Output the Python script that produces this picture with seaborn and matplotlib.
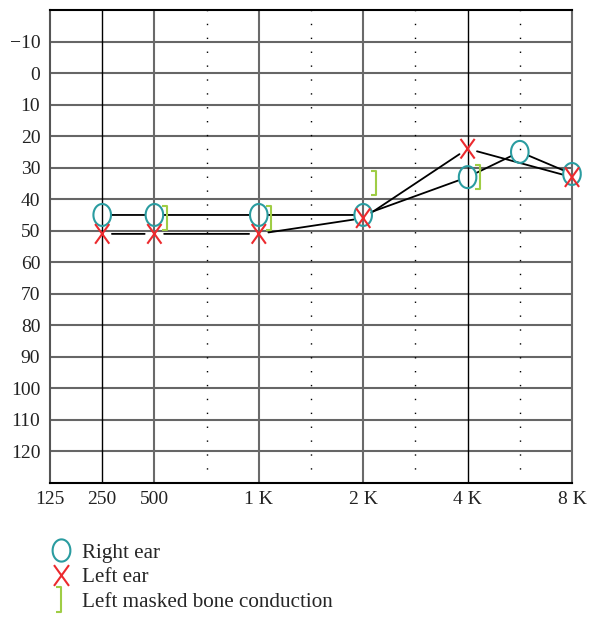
import numpy as np
import seaborn as sns
import matplotlib
import matplotlib.pyplot as plt
from matplotlib.path import Path
from matplotlib.lines import Line2D
from matplotlib.transforms import offset_copy

matplotlib.use("Agg")

# audiogram data (Hz, dB HL)
tick_freqs = [125, 250, 500, 1000, 2000, 4000, 8000]
tick_labels = ["125", "250", "500", "1 K", "2 K", "4 K", "8 K"]
mid_freqs = [750, 1500, 3000, 6000]
db_ticks = list(range(-10, 130, 10))

right_freqs = [250, 500, 1000, 2000, 4000, 6000, 8000]
right_db = [45, 45, 45, 45, 33, 25, 32]
left_freqs = [250, 500, 1000, 2000, 4000, 8000]
left_db = [51, 51, 51, 46, 24, 33]
bone_freqs = [500, 1000, 2000, 4000]
bone_db = [46, 46, 35, 33]

teal = "#2a9ca0"
red = "#ec2a2e"
green = "#9fcd45"

# audiogram x scale: 125-500 squeezed, then one unit per octave
scale_f = [125, 250, 500, 1000, 2000, 4000, 8000]
scale_p = [0, 0.5, 1, 2, 3, 4, 5]


def fwd(f):
    return np.interp(np.asarray(f, dtype=float), scale_f, scale_p,
                     left=-1, right=6)


def inv(p):
    return np.interp(np.asarray(p, dtype=float), scale_p, scale_f)


# custom marker shapes
t = np.linspace(0, 2 * np.pi, 61)
ellipse = Path(np.c_[0.8 * np.cos(t), np.sin(t)])
cross = Path([(-0.36, -0.5), (0.36, 0.5), (-0.36, 0.5), (0.36, -0.5)],
             [Path.MOVETO, Path.LINETO, Path.MOVETO, Path.LINETO])
bracket = Path([(-0.22, 0.5), (0, 0.5), (0, -0.5), (-0.22, -0.5)],
               [Path.MOVETO, Path.LINETO, Path.LINETO, Path.LINETO])

sns.set_style("white")
plt.rcParams["font.family"] = ["Liberation Serif", "DejaVu Serif"]

fig, ax = plt.subplots(figsize=(5.92, 6.18), dpi=100)
fig.subplots_adjust(left=50 / 592, right=572 / 592, bottom=1 - 483 / 618, top=1 - 10 / 618)

ax.set_xscale("function", functions=(fwd, inv))
ax.set_xlim(125, 8000)
ax.set_ylim(130, -20)

for d in db_ticks:
    ax.axhline(d, color="#666666", lw=1.5, zorder=1)
for f in tick_freqs[1:-1]:
    ax.axvline(f, color="black" if f in (250, 4000) else "#6a6a6a",
               lw=1.0 if f in (250, 4000) else 1.5, zorder=1)
for f in mid_freqs:
    ax.axvline(f, color="black", lw=1.0, ls=(0, (1, 9)), zorder=1)

# connecting lines with small gaps at the symbols
for fr, db in ((right_freqs, right_db), (left_freqs, left_db)):
    for i in range(len(fr) - 1):
        ax.annotate("", xy=(fr[i + 1], db[i + 1]), xytext=(fr[i], db[i]),
                    arrowprops=dict(arrowstyle="-", color="black", lw=1.3,
                                    shrinkA=7, shrinkB=7), zorder=2)

sns.scatterplot(x=right_freqs, y=right_db, marker=ellipse, s=250,
                facecolors="none", edgecolors=teal, linewidths=1.5, ax=ax,
                zorder=3, clip_on=False)
sns.scatterplot(x=left_freqs, y=left_db, marker=cross, s=200,
                facecolors="none", edgecolors=red, linewidths=1.5, ax=ax,
                zorder=4, clip_on=False)
ax.plot(bone_freqs, bone_db, ls="none", marker=bracket, ms=17, mew=1.5,
        color=green, fillstyle="none",
        transform=offset_copy(ax.transData, fig, x=9, units="points"), zorder=3)

ax.set_xticks(tick_freqs, tick_labels)
ax.set_yticks(db_ticks, [str(d).replace("-", "\u2212") for d in db_ticks])
ax.minorticks_off()
ax.tick_params(length=0, labelsize=14, colors="#222222")
ax.tick_params(axis="y", pad=7)
ax.tick_params(axis="x", pad=6)
ax.set_xlabel("")
ax.set_ylabel("")
for s in ax.spines.values():
    s.set_color("black")
    s.set_linewidth(1.5)
ax.spines["left"].set_color("#555555")
ax.spines["right"].set_color("#6a6a6a")

handles = [
    Line2D([], [], ls="none", marker=ellipse, ms=16, mfc="none", mec=teal, mew=1.5),
    Line2D([], [], ls="none", marker=cross, ms=15, mfc="none", mec=red, mew=1.5),
    Line2D([], [], ls="none", marker=bracket, ms=18, color=green, fillstyle="none", mew=1.5),
]
fig.legend(handles, ["Right ear", "Left ear", "Left masked bone conduction"],
           loc="upper left", bbox_to_anchor=(50 / 592, 1 - 543 / 618), frameon=False,
           handlelength=1.0, handletextpad=0.5, labelspacing=0.22, fontsize=15.2,
           borderaxespad=0, borderpad=0)

fig.savefig("out.png", dpi=100)
